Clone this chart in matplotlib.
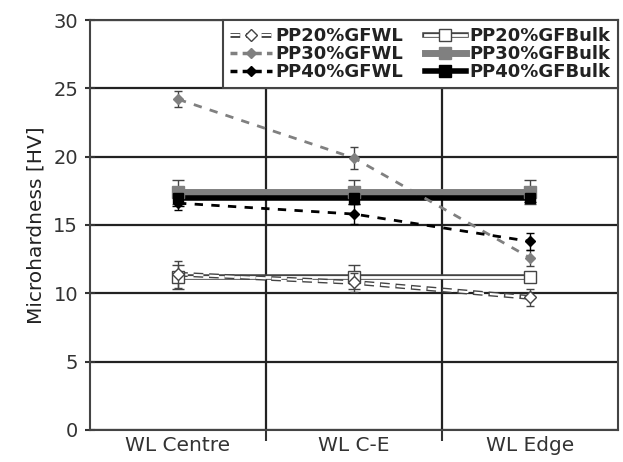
import numpy as np
import matplotlib.pyplot as plt
from matplotlib.lines import Line2D
from matplotlib.legend_handler import HandlerTuple

# data
positions = ["WL Centre", "WL C-E", "WL Edge"]
wl20 = [11.4, 10.8, 9.7]
wl20_err = [1.0, 0.7, 0.6]
wl30 = [24.2, 19.9, 12.6]
wl30_err = [0.6, 0.8, 0.6]
wl40 = [16.6, 15.8, 13.8]
wl40_err = [0.5, 0.7, 0.6]
bulk20 = [11.2, 11.2, 11.2]
bulk20_err = [0.9, 0.9, 0.3]
bulk30 = [17.4, 17.4, 17.4]
bulk30_err = [0.9, 0.9, 0.9]
bulk40 = [17.0, 17.0, 17.0]
bulk40_err = [0.6, 0.5, 0.3]

plt.rcParams['font.family'] = ['DejaVu Sans']
fig = plt.figure(figsize=(6.23, 4.62), dpi=100)
ax = fig.add_axes([0.1445, 0.0693, 0.8475, 0.8874])

x = np.arange(len(positions)) + 0.5
gray = '#808080'

# bulk lines (thick, outlined for 20%)
ax.plot(x, bulk30, color=gray, lw=5, zorder=3)
ax.plot(x, bulk40, color='black', lw=4, zorder=4)
ax.plot(x, bulk20, color='#444444', lw=4, zorder=3)
ax.plot(x, bulk20, color='white', lw=2, zorder=3.1)
ax.errorbar(x, bulk30, yerr=bulk30_err, fmt='s', color=gray, ms=9, capsize=4, elinewidth=1, ecolor='#444444', zorder=5)
ax.errorbar(x, bulk40, yerr=bulk40_err, fmt='s', color='black', ms=7, capsize=4, elinewidth=1, zorder=5)
ax.errorbar(x, bulk20, yerr=bulk20_err, fmt='s', mfc='white', mec='#444444', ms=8, capsize=4, elinewidth=1, ecolor='#444444', zorder=5)

# weld line series (dashed)
ax.plot(x, wl20, color='#444444', lw=3.5, ls=(0, (2, 1.2)), zorder=3.5)
ax.plot(x, wl20, color='white', lw=1.5, ls=(0, (4.7, 2.8)), zorder=3.6)
ax.errorbar(x, wl20, yerr=wl20_err, fmt='D', mfc='white', mec='#444444', ms=6, capsize=3, elinewidth=1, ecolor='#444444', zorder=6)
ax.errorbar(x, wl30, yerr=wl30_err, fmt='D--', color=gray, lw=2, ms=5, capsize=3, elinewidth=1, ecolor='#444444', dashes=(3, 3), zorder=6)
ax.errorbar(x, wl40, yerr=wl40_err, fmt='D--', color='black', lw=2, ms=5, capsize=3, elinewidth=1, dashes=(3, 3), zorder=6)

ax.set_xlim(0, 3)
ax.set_ylim(0, 30)
ax.set_yticks(np.arange(0, 31, 5))
ax.set_xticks([1, 2])
ax.set_xticklabels([])
ax.set_xticks(x, minor=True)
ax.set_xticklabels(positions, minor=True)
ax.tick_params(axis='x', which='minor', length=0, labelsize=14.5, colors='#333333', pad=4)
ax.tick_params(axis='x', which='major', length=8, width=1.5, color='#333333')
ax.tick_params(axis='y', length=7, width=1.5, direction='inout', labelsize=14, labelcolor='#333333', color='#333333', pad=5)
ax.grid(True, which='major', color='#222222', lw=1.6)
for s in ax.spines.values():
    s.set_color('#444444')
    s.set_linewidth(1.5)
ax.set_ylabel('Microhardness [HV]', fontsize=14.5, color='#222222', labelpad=6)
ax.set_axisbelow(True)

# legend
h_wl20 = (Line2D([], [], color='#444444', lw=3.5, ls=(0, (2, 1.2))),
          Line2D([], [], color='white', lw=1.5, ls=(0, (4.7, 2.8))),
          Line2D([], [], ls='none', marker='D', mfc='white', mec='#444444', ms=6))
h_wl30 = Line2D([], [], color=gray, lw=2.5, dashes=(2, 1.5), marker='D', ms=5)
h_wl40 = Line2D([], [], color='black', lw=2.5, dashes=(2, 1.5), marker='D', ms=5)
h_b20 = (Line2D([], [], color='#444444', lw=4), Line2D([], [], color='white', lw=2),
         Line2D([], [], ls='none', marker='s', mfc='white', mec='#444444', ms=8))
h_b30 = Line2D([], [], color=gray, lw=5, marker='s', ms=9)
h_b40 = Line2D([], [], color='black', lw=4, marker='s', ms=8)
leg = ax.legend([h_wl20, h_wl30, h_wl40, h_b20, h_b30, h_b40],
                ['PP20%GFWL', 'PP30%GFWL', 'PP40%GFWL', 'PP20%GFBulk', 'PP30%GFBulk', 'PP40%GFBulk'],
                handler_map={tuple: HandlerTuple(ndivide=1)},
                ncol=2, loc='upper right', bbox_to_anchor=(1.0, 1.0), fancybox=False, framealpha=1,
                edgecolor='#444444', borderpad=0.4, labelspacing=0.0, handlelength=2.3, handletextpad=0.2,
                columnspacing=1.2, borderaxespad=0,
                prop={'weight': 'bold', 'size': 13})
leg.get_frame().set_linewidth(1.5)
for t in leg.get_texts():
    t.set_color('#222222')

fig.savefig('out.png', dpi=100)
